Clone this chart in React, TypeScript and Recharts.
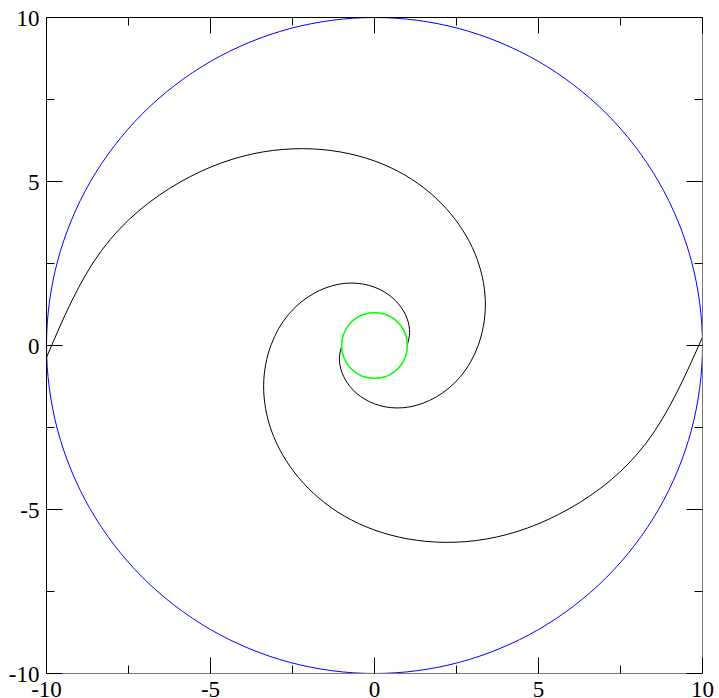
import React from 'react';
import { LineChart, Line, XAxis, YAxis } from 'recharts';

type Pt = [number, number];

// axis ticks: labelled every 5, small ticks every 2.5
const majorTicks = [-10, -5, 0, 5, 10];
const allTicks = [-10, -7.5, -5, -2.5, 0, 2.5, 5, 7.5, 10];

// big blue ring, r = 10
const outerRing: Pt[] = [
	[10, 0], [9.659, 2.588], [8.66, 5], [7.071, 7.071], [5, 8.66], [2.588, 9.659],
	[0, 10], [-2.588, 9.659], [-5, 8.66], [-7.071, 7.071], [-8.66, 5], [-9.659, 2.588],
	[-10, 0], [-9.659, -2.588], [-8.66, -5], [-7.071, -7.071], [-5, -8.66], [-2.588, -9.659],
	[0, -10], [2.588, -9.659], [5, -8.66], [7.071, -7.071], [8.66, -5], [9.659, -2.588],
];

// small green ring, r = 1
const innerRing: Pt[] = [
	[1, 0], [0.97, 0.26], [0.87, 0.5], [0.71, 0.71], [0.5, 0.87], [0.26, 0.97],
	[0, 1], [-0.26, 0.97], [-0.5, 0.87], [-0.71, 0.71], [-0.87, 0.5], [-0.97, 0.26],
	[-1, 0], [-0.97, -0.26], [-0.87, -0.5], [-0.71, -0.71], [-0.5, -0.87], [-0.26, -0.97],
	[0, -1], [0.26, -0.97], [0.5, -0.87], [0.71, -0.71], [0.87, -0.5], [0.97, -0.26],
];

// black spiral, arm ending on the right edge
const armA: Pt[] = [
	[1.0, 0.02], [1.07, 0.39], [0.99, 0.83], [0.73, 1.27], [0.29, 1.64], [-0.33, 1.87],
	[-1.08, 1.87], [-1.88, 1.57], [-2.62, 0.95], [-3.16, 0.0], [-3.38, -1.23], [-3.13, -2.63],
	[-2.32, -4.02], [-0.92, -5.2], [1.04, -5.9], [3.41, -5.9], [5.93, -4.98], [8.3, -2.95],
	[9.997, 0.25],
];

// black spiral, arm ending on the left edge
const armB: Pt[] = [
	[-1.0, -0.02], [-1.07, -0.39], [-0.99, -0.83], [-0.73, -1.27], [-0.29, -1.64], [0.33, -1.87],
	[1.08, -1.87], [1.88, -1.57], [2.62, -0.95], [3.16, 0.0], [3.38, 1.23], [3.13, 2.63],
	[2.32, 4.02], [0.92, 5.2], [-1.04, 5.9], [-3.41, 5.9], [-5.93, 4.98], [-8.32, 2.9],
	[-9.994, -0.35],
];

const toRows = (pts: Pt[]) => pts.map(([x, y]) => ({ x, y }));

// closed catmull-rom, so the rings have no seam
const closedCurve = (context: any) => {
	let pts: number[][] = [];
	return {
		areaStart() {},
		areaEnd() {},
		lineStart() {
			pts = [];
		},
		point(x: number, y: number) {
			pts.push([x, y]);
		},
		lineEnd() {
			const n = pts.length;
			if (!n) return;
			context.moveTo(pts[0][0], pts[0][1]);
			for (let i = 0; i < n; i++) {
				const p0 = pts[(i - 1 + n) % n];
				const p1 = pts[i];
				const p2 = pts[(i + 1) % n];
				const p3 = pts[(i + 2) % n];
				context.bezierCurveTo(
					p1[0] + (p2[0] - p0[0]) / 6,
					p1[1] + (p2[1] - p0[1]) / 6,
					p2[0] - (p3[0] - p1[0]) / 6,
					p2[1] - (p3[1] - p1[1]) / 6,
					p2[0],
					p2[1]
				);
			}
			context.closePath();
		},
	};
};

const FONT = '"Liberation Serif", "Times New Roman", serif';
const FONT_SIZE = 23;
const labelStyle = { fontFamily: FONT, fontSize: FONT_SIZE };
const isMajor = (v: number) => majorTicks.includes(v);
const tickLen = (v: number) => (isMajor(v) ? 16 : 8);

const BottomTick = (props: any) => {
	const { x, y, payload } = props;
	const v = payload.value;
	return (
		<g>
			<line x1={x} x2={x} y1={y} y2={y - tickLen(v)} stroke='#000' />
			{isMajor(v) && (
				<text x={x} y={y + 23} textAnchor='middle' style={labelStyle} fill='#000'>
					{v}
				</text>
			)}
		</g>
	);
};

const LeftTick = (props: any) => {
	const { x, y, payload } = props;
	const v = payload.value;
	return (
		<g>
			<line x1={x} x2={x + tickLen(v)} y1={y} y2={y} stroke='#000' />
			{isMajor(v) && (
				<text x={x - 7} y={y + 8} textAnchor='end' style={labelStyle} fill='#000'>
					{v}
				</text>
			)}
		</g>
	);
};

const TopTick = (props: any) => {
	const { x, y, payload } = props;
	return <line x1={x} x2={x} y1={y} y2={y + tickLen(payload.value)} stroke='#000' />;
};

const RightTick = (props: any) => {
	const { x, y, payload } = props;
	return <line x1={x} x2={x - tickLen(payload.value)} y1={y} y2={y} stroke='#000' />;
};

export default function App() {
	return (
		<div style={{ position: 'absolute', left: 0, top: 0 }}>
			<LineChart width={719} height={698} margin={{ top: 16.5, right: 15.5, bottom: 23.5, left: 45.5 }}>
				<XAxis
					type='number'
					dataKey='x'
					domain={[-10, 10]}
					ticks={allTicks}
					interval={0}
					height={1}
					tickSize={0}
					tickMargin={0}
					tickLine={false}
					axisLine={{ stroke: '#777' }}
					tick={(p: any) => <BottomTick {...p} />}
					allowDataOverflow
				/>
				<XAxis
					xAxisId='top'
					orientation='top'
					type='number'
					dataKey='x'
					domain={[-10, 10]}
					ticks={allTicks}
					interval={0}
					height={1}
					tickSize={0}
					tickMargin={0}
					tickLine={false}
					axisLine={{ stroke: '#000' }}
					tick={(p: any) => <TopTick {...p} />}
					allowDataOverflow
				/>
				<YAxis
					type='number'
					domain={[-10, 10]}
					ticks={allTicks}
					interval={0}
					width={1}
					tickSize={0}
					tickMargin={0}
					tickLine={false}
					axisLine={{ stroke: '#000' }}
					tick={(p: any) => <LeftTick {...p} />}
					allowDataOverflow
				/>
				<YAxis
					yAxisId='right'
					orientation='right'
					type='number'
					domain={[-10, 10]}
					ticks={allTicks}
					interval={0}
					width={1}
					tickSize={0}
					tickMargin={0}
					tickLine={false}
					axisLine={{ stroke: '#777' }}
					tick={(p: any) => <RightTick {...p} />}
					allowDataOverflow
				/>
				<Line data={toRows(outerRing)} dataKey='y' type={closedCurve as any} stroke='#0000ff' strokeWidth={1} dot={false} activeDot={false} isAnimationActive={false} />
				<Line data={toRows(armA)} dataKey='y' type='natural' stroke='#000' strokeWidth={1} dot={false} activeDot={false} isAnimationActive={false} />
				<Line data={toRows(armB)} dataKey='y' type='natural' stroke='#000' strokeWidth={1} dot={false} activeDot={false} isAnimationActive={false} />
				<Line data={toRows(innerRing)} dataKey='y' type={closedCurve as any} stroke='#00ff00' strokeWidth={1.5} dot={false} activeDot={false} isAnimationActive={false} />
			</LineChart>
		</div>
	);
}
